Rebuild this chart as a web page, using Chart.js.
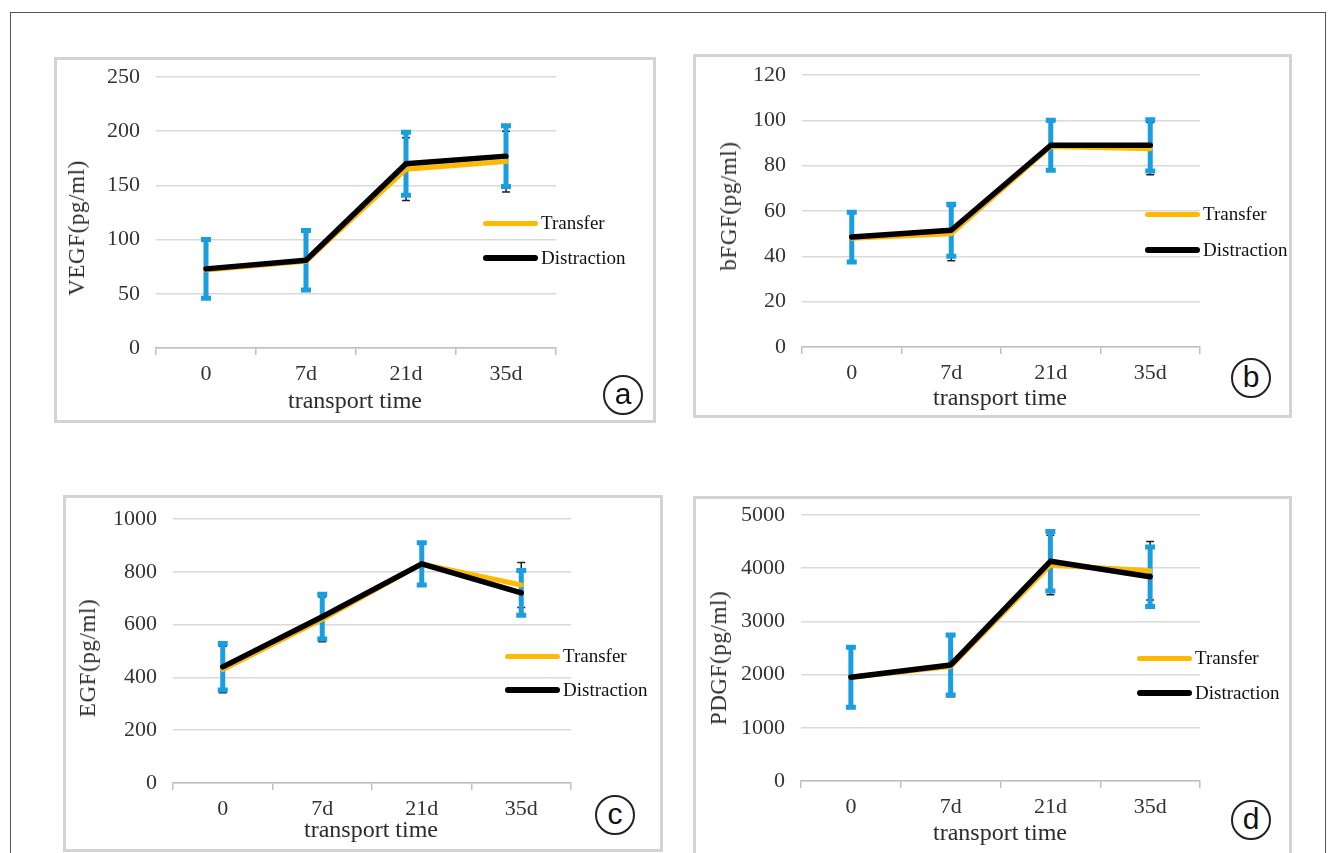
<!DOCTYPE html>
<html>
<head>
<meta charset="utf-8">
<script src="https://cdn.jsdelivr.net/npm/chart.js@4.4.1/dist/chart.umd.min.js"></script>
<style>
  body { margin: 0; background: #fff; }
  #page { position: relative; width: 1333px; height: 853px; overflow: hidden; background: #fff; font-family: 'Liberation Serif', serif; }
  .outer { position: absolute; left: 10px; top: 12px; width: 1316px; height: 900px; border: 1px solid #555; box-sizing: border-box; }
  .box { position: absolute; border: 3px solid #d3d3d3; box-sizing: border-box; background: #fff; }
  canvas { position: absolute; }
  .ytitle { position: absolute; font-size: 23px; color: #2b2b2b; white-space: nowrap; transform: translate(-50%, -50%) rotate(-90deg); letter-spacing: 0.6px; }
  .xtitle { position: absolute; font-size: 24px; color: #2b2b2b; white-space: nowrap; transform: translate(-50%, -50%); }
  .leg { position: absolute; font-size: 19px; color: #111; white-space: nowrap; transform: translateY(-50%); display: flex; align-items: center; }
  .leg i { display: inline-block; width: 55px; border-radius: 3px; margin-right: 3px; }
  .tag { position: absolute; width: 36px; height: 36px; border: 2px solid #222; border-radius: 50%; transform: translate(-50%, -50%);
         font-family: 'Liberation Sans', sans-serif; font-size: 30px; line-height: 34px; text-align: center; color: #111; }
</style>
</head>
<body>
<div id="page">
  <div class="outer"></div>
</div>
<script>
// categories and series
const times = ['0', '7d', '21d', '35d'];

const vegfTransfer = [72, 80, 165, 172];
const vegfDistract = [73, 81, 170, 177];
const vegfErrTransfer = [27, 27, 29, 28];
const vegfErrDistract = [27, 27.5, 29, 28];

const bfgfTransfer = [48, 50, 88.5, 87.5];
const bfgfDistract = [48.5, 51.5, 89, 89];
const bfgfErrTransfer = [11, 12, 11, 11.5];
const bfgfErrDistract = [11, 11.5, 11, 11.3];

const egfTransfer = [430, 620, 830, 750];
const egfDistract = [440, 630, 830, 720];
const egfErrTransfer = [88, 85, 80, 85];
const egfErrDistract = [88, 85, 80, 85];

const pdgfTransfer = [1950, 2150, 4060, 3950];
const pdgfDistract = [1950, 2180, 4130, 3840];
const pdgfErrTransfer = [565, 565, 560, 550];
const pdgfErrDistract = [565, 565, 560, 560];

const FONT = "'Liberation Serif', serif";
const page = document.getElementById('page');

// draws error bars under the lines: thin black for Transfer, thick blue for Distraction
const errorBars = {
  id: 'errorBars',
  beforeDatasetsDraw(chart) {
    const ctx = chart.ctx;
    const y = chart.scales.y;
    const styles = [
      { color: '#222', width: 1.5, cap: 8 },
      { color: '#1a9ee0', width: 5, cap: 10 },
    ];
    chart.data.datasets.forEach((ds, di) => {
      const meta = chart.getDatasetMeta(di);
      const st = styles[di];
      ctx.save();
      ctx.strokeStyle = st.color;
      ctx.lineWidth = st.width;
      ds.err.forEach((e, i) => {
        const x = meta.data[i].x;
        const top = y.getPixelForValue(ds.data[i] + e);
        const bot = y.getPixelForValue(ds.data[i] - e);
        ctx.beginPath();
        ctx.moveTo(x, top); ctx.lineTo(x, bot);
        ctx.moveTo(x - st.cap / 2, top); ctx.lineTo(x + st.cap / 2, top);
        ctx.moveTo(x - st.cap / 2, bot); ctx.lineTo(x + st.cap / 2, bot);
        ctx.stroke();
      });
      ctx.restore();
    });
  }
};

function addEl(cls, css, html) {
  const d = document.createElement('div');
  d.className = cls;
  Object.assign(d.style, css);
  if (html !== undefined) d.innerHTML = html;
  page.appendChild(d);
  return d;
}

function makePanel(p) {
  addEl('box', { left: p.box[0] + 'px', top: p.box[1] + 'px', width: p.box[2] + 'px', height: p.box[3] + 'px' });

  // canvas sized so the chart area lands on the plot rect
  const padL = 110, padT = 40, padR = 12, xH = 60;
  const [x0, y0, x1, y1] = p.area;
  const cv = document.createElement('canvas');
  const w = x1 + padR - (x0 - padL), h = y1 + xH - (y0 - padT);
  cv.width = w; cv.height = h;
  cv.style.left = (x0 - padL) + 'px'; cv.style.top = (y0 - padT) + 'px';
  cv.style.width = w + 'px'; cv.style.height = h + 'px';
  page.appendChild(cv);

  new Chart(cv.getContext('2d'), {
    type: 'line',
    data: {
      labels: times,
      datasets: [
        { label: 'Transfer', data: p.transfer, err: p.errT, borderColor: '#FFB900', borderWidth: 5, order: 2 },
        { label: 'Distraction', data: p.distract, err: p.errD, borderColor: '#000', borderWidth: 5.5, order: 1 },
      ],
    },
    options: {
      responsive: false,
      animation: false,
      devicePixelRatio: 1,
      layout: { padding: { left: 0, top: padT, right: padR, bottom: 0 } },
      elements: {
        line: { tension: 0, borderCapStyle: 'round', borderJoinStyle: 'round', fill: false },
        point: { radius: 0, hoverRadius: 0 },
      },
      plugins: { legend: { display: false }, tooltip: { enabled: false } },
      scales: {
        x: {
          offset: true,
          grid: { offset: true, drawOnChartArea: false, drawTicks: true, tickLength: 7, color: '#bfbfbf', lineWidth: 1.5 },
          border: { display: true, color: '#bfbfbf', width: 1.5 },
          ticks: { font: { family: FONT, size: 22 }, color: '#333', padding: 6, maxRotation: 0 },
          afterFit: s => { s.height = xH; },
        },
        y: {
          min: 0, max: p.max,
          grid: { color: '#d9d9d9', lineWidth: 1.5, drawTicks: false },
          border: { display: false },
          ticks: { stepSize: p.step, font: { family: FONT, size: 22 }, color: '#333', padding: 16, callback: v => String(v) },
          afterFit: s => { s.width = padL; },
        },
      },
    },
    plugins: [errorBars],
  });

  addEl('ytitle', { left: p.ytitle[0] + 'px', top: p.ytitle[1] + 'px' }, p.yname);
  addEl('xtitle', { left: p.xtitle[0] + 'px', top: p.xtitle[1] + 'px' }, 'transport time');
  addEl('leg', { left: p.leg[0] + 'px', top: p.leg[1] + 'px' }, '<i style="height:5px;background:#FFB900"></i>Transfer');
  addEl('leg', { left: p.leg[0] + 'px', top: p.leg[2] + 'px' }, '<i style="height:6px;background:#000"></i>Distraction');
  addEl('tag', { left: p.tag[0] + 'px', top: p.tag[1] + 'px' }, p.letter);
}

makePanel({
  box: [54, 57, 602, 366], area: [156, 77, 556, 348], max: 250, step: 50,
  transfer: vegfTransfer, distract: vegfDistract, errT: vegfErrTransfer, errD: vegfErrDistract,
  yname: 'VEGF(pg/ml)', ytitle: [77, 228], xtitle: [355, 400], leg: [483, 223, 258], tag: [623, 395], letter: 'a',
});
makePanel({
  box: [693, 54, 599, 364], area: [802, 75, 1200, 347], max: 120, step: 20,
  transfer: bfgfTransfer, distract: bfgfDistract, errT: bfgfErrTransfer, errD: bfgfErrDistract,
  yname: 'bFGF(pg/ml)', ytitle: [729, 206], xtitle: [1000, 397], leg: [1145, 214, 250], tag: [1251, 378], letter: 'b',
});
makePanel({
  box: [63, 495, 600, 357], area: [173, 519, 571, 783], max: 1000, step: 200,
  transfer: egfTransfer, distract: egfDistract, errT: egfErrTransfer, errD: egfErrDistract,
  yname: 'EGF(pg/ml)', ytitle: [88, 658], xtitle: [371, 829], leg: [505, 656, 690], tag: [615, 815], letter: 'c',
});
makePanel({
  box: [693, 496, 599, 380], area: [801, 515, 1200, 781], max: 5000, step: 1000,
  transfer: pdgfTransfer, distract: pdgfDistract, errT: pdgfErrTransfer, errD: pdgfErrDistract,
  yname: 'PDGF(pg/ml)', ytitle: [719, 658], xtitle: [1000, 832], leg: [1137, 658, 693], tag: [1251, 820], letter: 'd',
});
</script>
</body>
</html>
